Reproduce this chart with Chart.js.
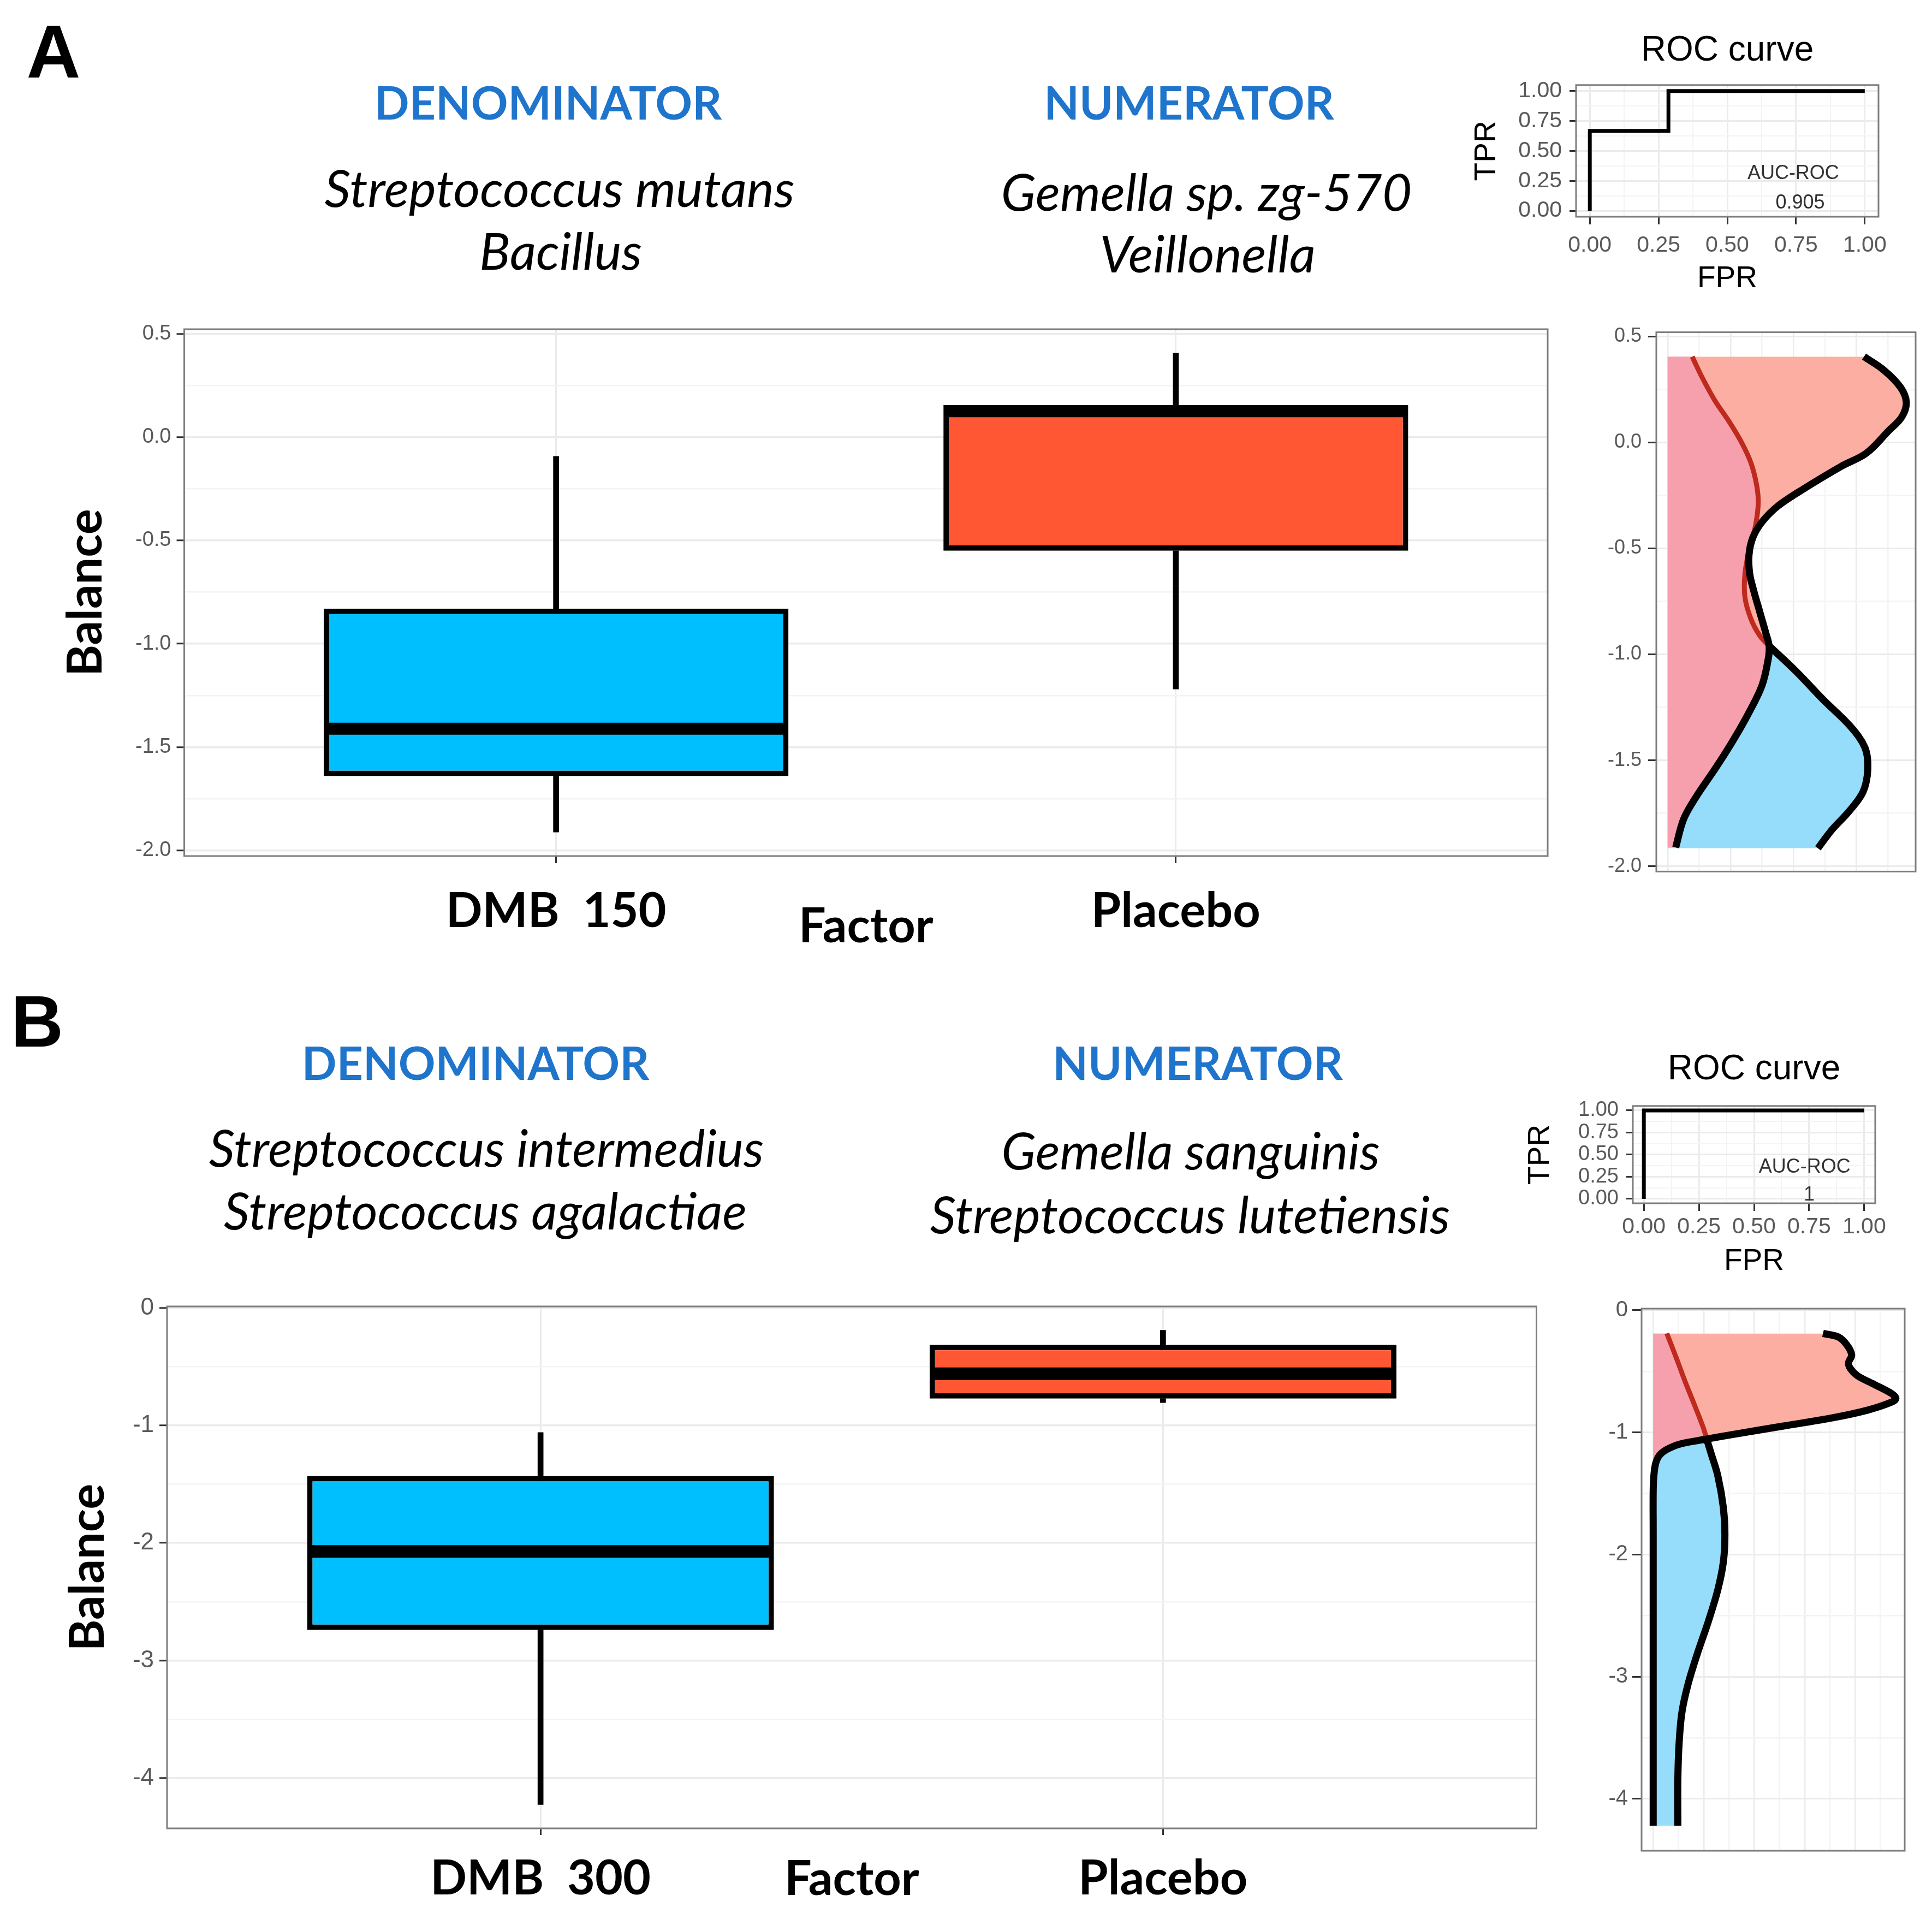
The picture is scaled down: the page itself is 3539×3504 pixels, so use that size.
<!DOCTYPE html>
<html>
<head>
<meta charset="utf-8">
<title>Balance – DMB vs Placebo</title>
<script src="https://cdn.jsdelivr.net/npm/chart.js@4.4.0/dist/chart.umd.min.js"></script>
<style>
  html, body { margin:0; padding:0; background:#ffffff; }
  body { position:relative; width:3539px; height:3504px; overflow:hidden; }
  canvas { position:absolute; }
  .t { position:absolute; width:2000px; text-align:center; white-space:pre; }
</style>
</head>
<body>
<script>
// ===================== DATA =====================
// Panel A : box-plot summary of Balance by Factor
const groupsA = ['DMB  150', 'Placebo'];
const lowA    = [-1.911, -1.219];
const q1A     = [-1.640, -0.550];
const medA    = [-1.411,  0.125];
const q3A     = [-0.830,  0.155];
const highA   = [-0.093,  0.406];

// Panel B
const groupsB = ['DMB  300', 'Placebo'];
const lowB    = [-4.225, -0.807];
const q1B     = [-2.740, -0.772];
const medB    = [-2.072, -0.561];
const q3B     = [-1.430, -0.315];
const highB   = [-1.060, -0.191];

// ROC curves (FPR, TPR) and AUC
const rocFprA = [0, 0, 0.286, 0.286, 1];
const rocTprA = [0, 0.667, 0.667, 1, 1];
const aucA = '0.905';
const rocFprB = [0, 0, 1];
const rocTprB = [0, 1, 1];
const aucB = '1';

// Density of Balance per group, panel A (balance value, density)
const placeboBalA  = [0.405, 0.34, 0.26, 0.19, 0.12, 0.054, -0.05, -0.113, -0.214, -0.299, -0.375, -0.45, -0.533, -0.62, -0.70, -0.80, -0.90, -0.96, -1.019, -1.146, -1.288, -1.422, -1.542, -1.667, -1.776, -1.911];
const placeboDensA = [0.780, 0.86, 0.925, 0.948, 0.93, 0.877, 0.79, 0.689, 0.547, 0.439, 0.375, 0.338, 0.323, 0.326, 0.342, 0.366, 0.39, 0.403, 0.400, 0.375, 0.317, 0.252, 0.1875, 0.116, 0.064, 0.032];
const dmbBalA      = [0.405, 0.307, 0.198, 0.097, -0.003, -0.097, -0.198, -0.281, -0.365, -0.45, -0.50, -0.62, -0.73, -0.83, -0.91, -0.96, -1.080, -1.214, -1.340, -1.441, -1.542, -1.649, -1.743, -1.826, -1.915];
const dmbDensA     = [0.0975, 0.137, 0.1875, 0.245, 0.295, 0.331, 0.353, 0.360, 0.353, 0.338, 0.325, 0.307, 0.307, 0.330, 0.365, 0.403, 0.510, 0.618, 0.726, 0.784, 0.795, 0.776, 0.719, 0.654, 0.597];
const crossA = -0.96;

// Density of Balance per group, panel B
const placeboBalB  = [-0.19, -0.22, -0.285, -0.366, -0.43, -0.479, -0.537, -0.608, -0.68, -0.722, -0.754, -0.819, -0.883, -0.948, -1.013, -1.055, -1.094, -1.142, -1.191, -1.256, -1.353, -1.482, -1.8, -2.5, -3.2, -3.9, -4.22];
const placeboDensB = [1.681, 1.835, 1.918, 1.965, 1.934, 1.953, 2.024, 2.19, 2.356, 2.403, 2.356, 2.119, 1.764, 1.29, 0.817, 0.53, 0.272, 0.13, 0.059, 0.024, 0.007, 0, 0, 0, 0, 0, 0];
const dmbBalB      = [-0.19, -0.382, -0.592, -0.786, -0.964, -1.055, -1.159, -1.353, -1.612, -1.838, -2.065, -2.291, -2.55, -2.809, -3.068, -3.294, -3.553, -3.845, -4.22];
const dmbDensB     = [0.135, 0.225, 0.32, 0.414, 0.497, 0.53, 0.568, 0.639, 0.694, 0.71, 0.694, 0.639, 0.545, 0.438, 0.343, 0.284, 0.256, 0.244, 0.244];
const crossB = -1.055;

// Taxa shown above each panel
const denomA = ['Streptococcus mutans', 'Bacillus'];
const numerA = ['Gemella sp. zg-570', 'Veillonella'];
const denomB = ['Streptococcus intermedius', 'Streptococcus agalactiae'];
const numerB = ['Gemella sanguinis', 'Streptococcus lutetiensis'];

// ===================== STYLE =====================
const AXIS_FONT  = "'Liberation Sans', Arial, Helvetica, sans-serif";
const LABEL_FONT = "Lato, 'Open Sans', sans-serif";
const TICK_GREY  = '#5a5a5a';
const GRID_MAJOR = '#EBEBEB';
const GRID_MINOR = '#F4F4F4';
const FRAME      = '#7d7d7d';
const BLUE_BOX   = '#00BFFF';
const RED_BOX    = '#FF5733';
const SALMON     = '#FDAEA2';
const PINK       = '#F7A0AD';
const LIGHTBLUE  = '#95DDFB';
const DARKRED    = '#BE2A1E';
const HEAD_BLUE  = '#1F74CC';

Chart.defaults.animation = false;
Chart.defaults.font.family = AXIS_FONT;

const near = (v, m) => Math.abs(v / m - Math.round(v / m)) < 1e-6;

function mk(left, top, w, h) {
  const c = document.createElement('canvas');
  c.width = w; c.height = h;
  c.style.left = left + 'px'; c.style.top = top + 'px';
  c.style.width = w + 'px'; c.style.height = h + 'px';
  document.body.appendChild(c);
  return c;
}

const framePlugin = {
  id: 'frame',
  afterDatasetsDraw(chart) {
    const { ctx, chartArea: r } = chart;
    ctx.save();
    ctx.strokeStyle = FRAME; ctx.lineWidth = 3;
    ctx.strokeRect(r.left, r.top, r.right - r.left, r.bottom - r.top);
    ctx.restore();
  }
};

function notePlugin(items, font) {
  return {
    id: 'note',
    afterDatasetsDraw(chart) {
      const { ctx, scales: { x, y } } = chart;
      ctx.save();
      ctx.fillStyle = '#333'; ctx.font = font;
      ctx.textAlign = 'center'; ctx.textBaseline = 'middle';
      items.forEach(it => ctx.fillText(it.text, x.getPixelForValue(it.x), y.getPixelForValue(it.y)));
      ctx.restore();
    }
  };
}

const baseOpts = { responsive: false, devicePixelRatio: 1, animation: false,
  plugins: { legend: { display: false }, tooltip: { enabled: false } } };

// ===================== BOX PLOT =====================
function boxPlot(p) {
  const cv = mk(p.left, p.top, p.w, p.h);
  const xs = p.groups.map((g, i) => i + 1);
  const BOXW = 0.75;
  const halfBox = c => { const s = c.chart.scales.x; return s.getPixelForValue(1 + BOXW / 2) - s.getPixelForValue(1) - p.border / 2; };
  new Chart(cv, {
    type: 'bar',
    data: { datasets: [
      { type: 'scatter', data: xs.map((x, i) => ({ x, y: p.med[i] })), pointStyle: 'line',
        pointRadius: halfBox, pointHoverRadius: halfBox, pointBorderColor: '#000', pointBackgroundColor: '#000',
        pointBorderWidth: p.medW, pointHoverBorderWidth: p.medW, order: 0 },
      { data: xs.map((x, i) => ({ x, y: [p.q1[i], p.q3[i]] })), backgroundColor: p.colors, borderColor: '#000',
        borderWidth: p.border, borderSkipped: false, grouped: false, barPercentage: BOXW, categoryPercentage: 1, order: 1 },
      { data: xs.map((x, i) => ({ x, y: [p.q3[i], p.high[i]] })), backgroundColor: '#000', borderWidth: 0,
        barThickness: p.whW, grouped: false, order: 2 },
      { data: xs.map((x, i) => ({ x, y: [p.low[i], p.q1[i]] })), backgroundColor: '#000', borderWidth: 0,
        barThickness: p.whW, grouped: false, order: 2 }
    ] },
    options: Object.assign({}, baseOpts, {
      layout: { padding: p.pad },
      scales: {
        x: { type: 'linear', min: 0.4, max: 2.6, offset: false,
          ticks: { stepSize: 1, includeBounds: false, autoSkip: false, maxRotation: 0, minRotation: 0,
            callback: v => p.groups[Math.round(v) - 1] || '', color: '#000',
            font: { family: LABEL_FONT, weight: 'bold', size: p.catFont }, padding: p.xPad },
          grid: { offset: false, color: GRID_MAJOR, lineWidth: 3, tickLength: p.xTick, tickColor: '#333', tickWidth: 3 },
          border: { display: false },
          title: { display: true, text: 'Factor', color: '#000',
            font: { family: LABEL_FONT, weight: 'bold', size: p.catFont }, padding: { top: 0, bottom: p.factorPadB } },
          afterFit: s => { s.height = p.xH; } },
        y: { type: 'linear', min: p.yMin, max: p.yMax,
          ticks: { stepSize: p.yStep, includeBounds: false, autoSkip: false, color: TICK_GREY,
            font: { family: AXIS_FONT, size: p.yFont }, padding: 10,
            callback: v => near(v, p.yMajor) ? v.toFixed(p.yDigits) : '' },
          grid: { color: c => near(c.tick.value, p.yMajor) ? GRID_MAJOR : GRID_MINOR,
            lineWidth: c => near(c.tick.value, p.yMajor) ? 3.5 : 2.5,
            tickLength: 14, tickWidth: 3,
            tickColor: c => near(c.tick.value, p.yMajor) ? '#333' : 'rgba(0,0,0,0)' },
          border: { display: false },
          title: { display: true, text: 'Balance', color: '#000',
            font: { family: LABEL_FONT, weight: 'bold', size: 88 }, padding: { top: p.balPadT, bottom: 0 } },
          afterFit: s => { s.width = p.yW; } }
      }
    }),
    plugins: [framePlugin]
  });
}

// ===================== DENSITY =====================
function densPlot(p) {
  const cv = mk(p.left, p.top, p.w, p.h);
  const pts = (bal, dens, keep) => bal.map((y, i) => ({ x: dens[i], y })).filter(q => keep(q.y));
  const up = y => y >= p.cross - 1e-9, lo = y => y <= p.cross + 1e-9, all = () => true;
  const area = (data, color, order) => ({ data, fill: 'origin', backgroundColor: color, borderWidth: 0,
    borderColor: 'rgba(0,0,0,0)', pointRadius: 0, pointHoverRadius: 0, tension: 0.35, order });
  const curve = (data, color, w, order) => ({ data, fill: false, borderColor: color, borderWidth: w,
    pointRadius: 0, pointHoverRadius: 0, tension: 0.35, order, borderCapStyle: 'butt', borderJoinStyle: 'round' });
  new Chart(cv, {
    type: 'line',
    data: { datasets: [
      curve(pts(p.pBal, p.pDens, all), '#000', 13, 0),
      curve(pts(p.dBal, p.dDens, lo), '#000', 13, 1),
      curve(pts(p.dBal, p.dDens, up), DARKRED, 9, 2),
      area(pts(p.pBal, p.pDens, lo), PINK, 3),
      area(pts(p.dBal, p.dDens, lo), LIGHTBLUE, 4),
      area(pts(p.dBal, p.dDens, up), PINK, 5),
      area(pts(p.pBal, p.pDens, up), SALMON, 6)
    ] },
    options: Object.assign({}, baseOpts, {
      indexAxis: 'y',
      layout: { padding: p.pad },
      scales: {
        x: { type: 'linear', min: p.xMin, max: p.xMax,
          ticks: { display: false, stepSize: p.xStep, includeBounds: false },
          grid: { color: c => near(c.tick.value, p.xStep * 2) ? GRID_MAJOR : GRID_MINOR, lineWidth: 2.5, drawTicks: false },
          border: { display: false },
          afterFit: s => { s.height = 0; } },
        y: { type: 'linear', min: p.yMin, max: p.yMax,
          ticks: { stepSize: p.yStep, includeBounds: false, autoSkip: false, color: TICK_GREY,
            font: { family: AXIS_FONT, size: p.yFont }, padding: p.yPad,
            callback: v => near(v, p.yMajor) ? v.toFixed(p.yDigits) : '' },
          grid: { color: c => near(c.tick.value, p.yMajor) ? GRID_MAJOR : GRID_MINOR,
            lineWidth: c => near(c.tick.value, p.yMajor) ? 3 : 2.5,
            tickLength: p.yTick, tickWidth: 3,
            tickColor: c => near(c.tick.value, p.yMajor) ? '#333' : 'rgba(0,0,0,0)' },
          border: { display: false },
          afterFit: s => { s.width = p.yW; } }
      }
    }),
    plugins: [framePlugin]
  });
}

// ===================== ROC =====================
function rocPlot(p) {
  const cv = mk(p.left, p.top, p.w, p.h);
  const axis = (title, font, pad, padT, padB, tickLen) => ({
    type: 'linear', min: -0.05, max: 1.05,
    ticks: { stepSize: 0.125, includeBounds: false, autoSkip: false, maxRotation: 0, minRotation: 0,
      color: TICK_GREY, font: { family: AXIS_FONT, size: font }, padding: pad,
      callback: v => near(v, 0.25) ? v.toFixed(2) : '' },
    grid: { color: c => near(c.tick.value, 0.25) ? GRID_MAJOR : GRID_MINOR, lineWidth: c => near(c.tick.value, 0.25) ? 3 : 2,
      tickLength: tickLen, tickWidth: 3, tickColor: c => near(c.tick.value, 0.25) ? '#333' : 'rgba(0,0,0,0)' },
    border: { display: false },
    title: { display: true, text: title, color: '#000', font: { family: AXIS_FONT, size: 55 }, padding: { top: padT, bottom: padB } }
  });
  const xAx = axis('FPR', p.xFont, p.xPad, 0, p.fprPadB, 14);
  xAx.afterFit = s => { s.height = p.xH; };
  const yAx = axis('TPR', p.yFont, 14, 0, 0, 12);
  yAx.afterFit = s => { s.width = p.yW; };
  new Chart(cv, {
    type: 'scatter',
    data: { datasets: [{ data: p.fpr.map((x, i) => ({ x, y: p.tpr[i] })), showLine: true, borderColor: '#000',
      borderWidth: 7, pointRadius: 0, pointHoverRadius: 0, tension: 0, borderJoinStyle: 'miter' }] },
    options: Object.assign({}, baseOpts, {
      layout: { padding: p.pad },
      plugins: { legend: { display: false }, tooltip: { enabled: false },
        title: { display: true, text: 'ROC curve', fullSize: false, color: '#000',
          font: { family: AXIS_FONT, size: 64, weight: 'normal' }, padding: p.titlePad } },
      scales: { x: xAx, y: yAx }
    }),
    plugins: [framePlugin, notePlugin(p.notes, "36px 'Liberation Sans', Arial, sans-serif")]
  });
}

// ===================== TEXT =====================
function label(cx, cy, str, size, css) {
  const d = document.createElement('div');
  d.className = 't';
  d.textContent = str;
  d.style.cssText = `left:${cx - 1000}px;top:${cy - size / 2}px;font-size:${size}px;line-height:${size}px;` + css;
  document.body.appendChild(d);
}
const LETTER = "font-family:'Liberation Sans',Arial,sans-serif;font-weight:700;color:#000;";
const HEAD   = `font-family:Lato,'Open Sans',sans-serif;font-weight:700;color:${HEAD_BLUE};`;
const TAXA   = "font-family:Lato,'Open Sans',sans-serif;font-style:italic;font-weight:400;color:#000;";

label(98, 94, 'A', 137, LETTER);
label(68, 1871, 'B', 133, LETTER);
label(1004, 187, 'DENOMINATOR', 84, HEAD);
label(2178, 187, 'NUMERATOR', 84, HEAD);
label(1025, 343, denomA[0], 94, TAXA);
label(1027, 458, denomA[1], 94, TAXA);
label(2210, 350, numerA[0], 94, TAXA);
label(2212, 463, numerA[1], 94, TAXA);
label(871, 1946, 'DENOMINATOR', 84, HEAD);
label(2194, 1946, 'NUMERATOR', 84, HEAD);
label(891, 2101, denomB[0], 93, TAXA);
label(889, 2216, denomB[1], 93, TAXA);
label(2181, 2106, numerB[0], 93, TAXA);
label(2180, 2223, numerB[1], 93, TAXA);

// ===================== CHARTS =====================
boxPlot({ left: 100, top: 560, w: 2740, h: 1208, pad: { left: 0, right: 5, top: 43, bottom: 0 },
  yW: 237.5, xH: 200, groups: groupsA, low: lowA, q1: q1A, med: medA, q3: q3A, high: highA,
  colors: [BLUE_BOX, RED_BOX], yMin: -2.027, yMax: 0.522, yStep: 0.25, yMajor: 0.5, yDigits: 1, yFont: 38,
  catFont: 88, xPad: 36, xTick: 13, factorPadB: 18, balPadT: 5, border: 10, medW: 22, whW: 10 });

boxPlot({ left: 100, top: 2350, w: 2720, h: 1149, pad: { left: 0, right: 5.5, top: 43, bottom: 0 },
  yW: 206, xH: 150, groups: groupsB, low: lowB, q1: q1B, med: medB, q3: q3B, high: highB,
  colors: [BLUE_BOX, RED_BOX], yMin: -4.427, yMax: 0.011, yStep: 0.5, yMajor: 1, yDigits: 0, yFont: 44,
  catFont: 88, xPad: 28, xTick: 12, factorPadB: 4, balPadT: 9, border: 10, medW: 23, whW: 10 });

densPlot({ left: 2930, top: 575, w: 599, h: 1055, pad: { left: 0, right: 20, top: 28, bottom: 20 },
  yW: 104, pBal: placeboBalA, pDens: placeboDensA, dBal: dmbBalA, dDens: dmbDensA, cross: crossA,
  xMin: -0.045, xMax: 0.985, xStep: 0.125, yMin: -2.025, yMax: 0.52, yStep: 0.25, yMajor: 0.5, yDigits: 1,
  yFont: 36, yPad: 12, yTick: 15 });

densPlot({ left: 2900, top: 2365, w: 609, h: 1057, pad: { left: 0, right: 20, top: 28, bottom: 20 },
  yW: 107, pBal: placeboBalB, pDens: placeboDensB, dBal: dmbBalB, dDens: dmbDensB, cross: crossB,
  xMin: -0.115, xMax: 2.49, xStep: 0.25, yMin: -4.425, yMax: 0.013, yStep: 0.5, yMajor: 1, yDigits: 0,
  yFont: 40, yPad: 8, yTick: 17 });

rocPlot({ left: 2691, top: 30, w: 800, h: 518, pad: { left: 0, right: 50, top: 0, bottom: 0 },
  yW: 196, xH: 151, fpr: rocFprA, tpr: rocTprA, xFont: 41, yFont: 41, xPad: 14, fprPadB: 4,
  titlePad: { top: 25, bottom: 24 },
  notes: [{ text: 'AUC-ROC', x: 0.74, y: 0.31 }, { text: aucA, x: 0.765, y: 0.065 }] });

rocPlot({ left: 2789, top: 1880, w: 696, h: 469, pad: { left: 0, right: 50, top: 0, bottom: 0 },
  yW: 202, xH: 145, fpr: rocFprB, tpr: rocTprB, xFont: 41, yFont: 38, xPad: 5, fprPadB: 5,
  titlePad: { top: 41, bottom: 28 },
  notes: [{ text: 'AUC-ROC', x: 0.73, y: 0.36 }, { text: aucB, x: 0.75, y: 0.045 }] });
</script>
</body>
</html>
